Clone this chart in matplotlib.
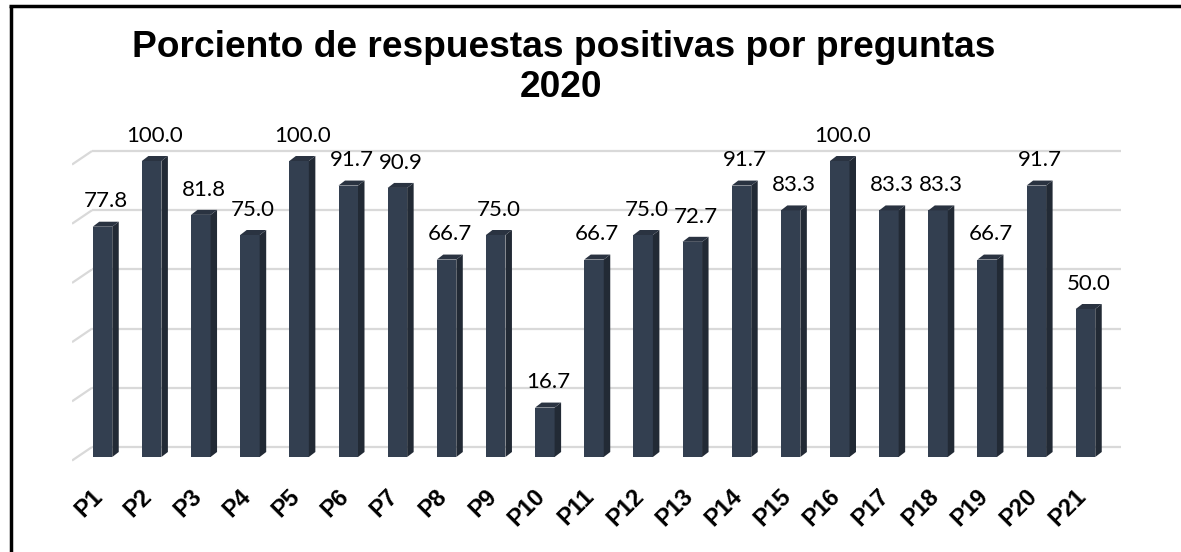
import matplotlib
matplotlib.use("Agg")
import matplotlib.pyplot as plt
from matplotlib.patches import Polygon
from matplotlib.lines import Line2D

categories = ["P1", "P2", "P3", "P4", "P5", "P6", "P7", "P8", "P9", "P10", "P11",
              "P12", "P13", "P14", "P15", "P16", "P17", "P18", "P19", "P20", "P21"]
values = [77.8, 100.0, 81.8, 75.0, 100.0, 91.7, 90.9, 66.7, 75.0, 16.7, 66.7,
          75.0, 72.7, 91.7, 83.3, 100.0, 83.3, 83.3, 66.7, 91.7, 50.0]
grid_values = [0, 20, 40, 60, 80, 100]
title_lines = ["Porciento de respuestas positivas por preguntas", "2020"]

W, H = 1181, 552
fig = plt.figure(figsize=(W / 100, H / 100), dpi=100)
fig.patch.set_facecolor("white")

# axes placement in pixels
ax_l, ax_r, ax_t, ax_b = 72, 1121, 140, 470
ax = fig.add_axes([ax_l / W, (H - ax_b) / H, (ax_r - ax_l) / W, (ax_b - ax_t) / H])
px_x = 49.15          # pixels per category
px_y = 2.96           # pixels per value unit
x0_px, y0_px = 102.5, 457
ax.set_xlim((ax_l - x0_px) / px_x, (ax_r - x0_px) / px_x)
ax.set_ylim((y0_px - ax_b) / px_y, (y0_px - ax_t) / px_y)
ax.axis("off")

xs = list(range(len(categories)))
front = "#333F50"
side = "#222A35"
top = "#2A3341"
grid_c = "#D9D9D9"

# depth offsets (pixels -> data)
dx = 6.5 / px_x
dy = 5.0 / px_y
back_dy = 10.0 / px_y
xmin, xmax = ax.get_xlim()
wall_x = (92 - x0_px) / px_x

# gridlines: slanted side part + back wall part
for g in grid_values:
    ax.plot([xmin, wall_x], [g - 1.2, g + back_dy], color=grid_c, lw=1.6,
            solid_capstyle="butt", zorder=1)
    ax.plot([wall_x, xmax], [g + back_dy, g + back_dy], color=grid_c, lw=1.6,
            solid_capstyle="butt", zorder=1)

bw = 19.5 / px_x
ax.bar(xs, values, width=bw, color=front, zorder=3, linewidth=0)
for x, v in zip(xs, values):
    xl, xr = x - bw / 2, x + bw / 2
    ax.add_patch(Polygon([(xr, 0), (xr + dx, dy), (xr + dx, v + dy), (xr, v)],
                         closed=True, facecolor=side, edgecolor="none", zorder=3))
    ax.add_patch(Polygon([(xl, v), (xl + dx, v + dy), (xr + dx, v + dy), (xr, v)],
                         closed=True, facecolor=top, edgecolor="none", zorder=3))
    ax.annotate(f"{v:.1f}", xy=(x + dx / 2, v), xytext=(0, 11),
                textcoords="offset points", ha="center", va="bottom",
                fontsize=16, family="Lato", color="black", zorder=4)

# category labels
for x, c in zip(xs, categories):
    ax.annotate(c, xy=(x, 0), xytext=(-8, -20), textcoords="offset points",
                rotation=45, rotation_mode="anchor", ha="right", va="top",
                fontsize=17, fontweight="bold", family="Liberation Sans",
                annotation_clip=False)

fig.text(564 / W, 1 - 57 / H, title_lines[0], ha="center", va="baseline",
         fontsize=26.7, fontweight="bold", family="Liberation Sans")
fig.text(561 / W, 1 - 97 / H, title_lines[1], ha="center", va="baseline",
         fontsize=26.7, fontweight="bold", family="Liberation Sans")

# outer border (left & top visible)
fig.add_artist(Line2D([10.5 / W, 10.5 / W], [0, 1 - 6 / H], color="black", lw=2.5,
                      solid_capstyle="butt", transform=fig.transFigure))
fig.add_artist(Line2D([9 / W, 1], [1 - 6 / H, 1 - 6 / H], color="black", lw=2.5,
                      solid_capstyle="butt", transform=fig.transFigure))

fig.savefig("out.png", dpi=100)
